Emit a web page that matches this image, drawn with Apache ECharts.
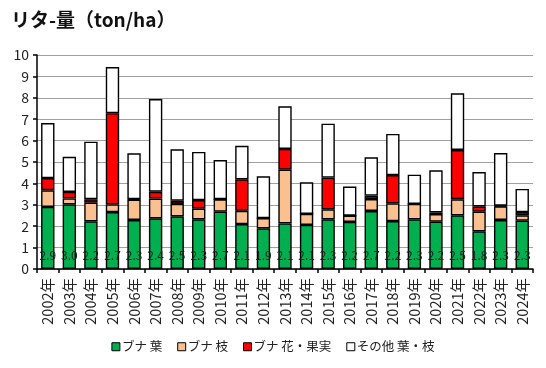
<!DOCTYPE html>
<html>
<head>
<meta charset="utf-8">
<script src="https://cdn.jsdelivr.net/npm/echarts@6/dist/echarts.min.js"></script>
<style>html,body{margin:0;padding:0;background:#fff}#c{width:546px;height:368px}</style>
</head>
<body>
<div id="c"></div>
<script>
const years = ['2002年','2003年','2004年','2005年','2006年','2007年','2008年','2009年','2010年','2011年','2012年','2013年','2014年','2015年','2016年','2017年','2018年','2019年','2020年','2021年','2022年','2023年','2024年'];
const leaf   = [2.90,3.02,2.23,2.66,2.29,2.37,2.46,2.32,2.68,2.10,1.90,2.13,2.06,2.32,2.20,2.71,2.24,2.32,2.21,2.51,1.76,2.29,2.26];
const branch = [0.78,0.28,0.87,0.36,0.95,0.92,0.58,0.50,0.58,0.62,0.48,2.51,0.52,0.47,0.29,0.56,0.83,0.72,0.36,0.75,0.92,0.64,0.25];
const fruit  = [0.57,0.30,0.16,4.26,0.02,0.32,0.15,0.40,0.00,1.47,0.00,0.97,0.00,1.48,0.00,0.16,1.32,0.00,0.08,2.30,0.25,0.03,0.15];
const other  = [2.57,1.64,2.69,2.16,2.15,4.33,2.40,2.25,1.83,1.57,1.95,1.99,1.47,2.52,1.36,1.79,1.92,1.37,1.96,2.65,1.60,2.46,1.08];
const yTicks = [0,1,2,3,4,5,6,7,8,9,10];
const names = ['ブナ 葉','ブナ 枝','ブナ 花・果実','その他 葉・枝'];
const colors = ['#00B050','#FAC090','#FF0000','#FFFFFF'];

const font = '"Noto Sans CJK JP","Noto Sans",sans-serif';
const chart = echarts.init(document.getElementById('c'));
const dataSets = [leaf, branch, fruit, other];
chart.setOption({
  animation: false,
  title: {
    text: 'リタ-量（ton/ha）', left: 6, top: 5,
    textStyle: { fontFamily: font, fontSize: 19, fontWeight: 'bold', color: '#111' }
  },
  legend: {
    data: names, bottom: 10, left: 'center',
    icon: 'rect', itemWidth: 8, itemHeight: 8, itemGap: 15,
    textStyle: { fontFamily: font, fontSize: 12.5, color: '#222', padding: [0,0,0,-3] },
    itemStyle: { borderColor: '#000', borderWidth: 1 }
  },
  grid: { left: 37, right: 13, top: 55, bottom: 99 },
  xAxis: {
    type: 'category', data: years,
    axisLine: { lineStyle: { color: '#000', width: 1.5 } },
    axisTick: { show: true, alignWithLabel: false, length: 4, lineStyle: { color: '#000', width: 1.5 } },
    axisLabel: { rotate: 90, fontFamily: font, fontSize: 14.5, color: '#222', margin: 9 }
  },
  yAxis: {
    type: 'value', min: 0, max: 10, interval: 1,
    axisLine: { show: true, lineStyle: { color: '#000', width: 1.5 } },
    axisTick: { show: true, length: 4, lineStyle: { color: '#000', width: 1.5 } },
    splitLine: { lineStyle: { color: '#A0A0A0', width: 1 } },
    axisLabel: { fontFamily: font, fontSize: 14, color: '#222', margin: 8,
      formatter: v => yTicks.includes(v) ? String(v) : '' }
  },
  series: dataSets.map((d, i) => ({
    name: names[i], type: 'bar', stack: 'all', data: d,
    barCategoryGap: '38%',
    itemStyle: { color: colors[i], borderColor: '#000', borderWidth: 1.4 },
    label: i === 0 ? {
      show: true, position: 'insideBottom', distance: 8,
      fontFamily: font, fontSize: 12, color: '#1e1e1e',
      textBorderWidth: 0, textShadowBlur: 0, overflow: 'none',
      formatter: p => p.value.toFixed(1)
    } : { show: false },
    labelLayout: { hideOverlap: false }
  }))
});
</script>
</body>
</html>
